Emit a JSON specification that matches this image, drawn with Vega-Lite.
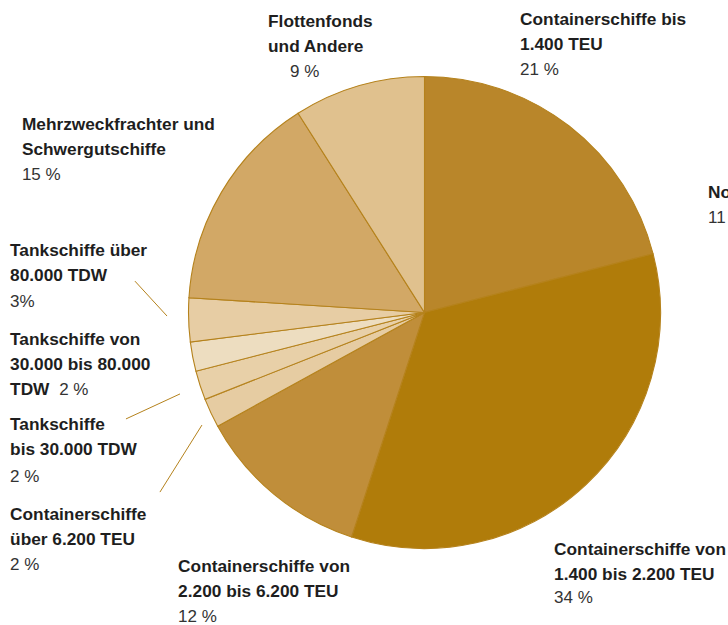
{
  "$schema": "https://vega.github.io/schema/vega-lite/v6.json",
  "width": 607,
  "height": 625,
  "autosize": {"type": "none"},
  "padding": {"left": 121, "top": 0, "right": 0, "bottom": 0},
  "background": "white",
  "config": {"view": {"stroke": null}},
  "datasets": {
    "slices": [
      {"order": 1, "name": "Containerschiffe bis 1.400 TEU", "value": 21},
      {"order": 2, "name": "Containerschiffe von 1.400 bis 2.200 TEU", "value": 34},
      {"order": 3, "name": "Containerschiffe von 2.200 bis 6.200 TEU", "value": 12},
      {"order": 4, "name": "Containerschiffe über 6.200 TEU", "value": 2},
      {"order": 5, "name": "Tankschiffe bis 30.000 TDW", "value": 2},
      {"order": 6, "name": "Tankschiffe von 30.000 bis 80.000 TDW", "value": 2},
      {"order": 7, "name": "Tankschiffe über 80.000 TDW", "value": 3},
      {"order": 8, "name": "Mehrzweckfrachter und Schwergutschiffe", "value": 15},
      {"order": 9, "name": "Flottenfonds und Andere", "value": 9}
    ],
    "names": [
      {"u": -0.663, "v": 1.210, "lines": ["Flottenfonds", "und Andere"]},
      {"u": 0.405, "v": 1.218, "lines": ["Containerschiffe bis", "1.400 TEU"]},
      {"u": 1.201, "v": 0.487, "lines": ["No"]},
      {"u": -1.706, "v": 0.773, "lines": ["Mehrzweckfrachter und", "Schwergutschiffe"]},
      {"u": -1.756, "v": 0.239, "lines": ["Tankschiffe über", "80.000 TDW"]},
      {"u": -1.756, "v": -0.138, "lines": ["Tankschiffe von", "30.000 bis 80.000", "TDW"]},
      {"u": -1.756, "v": -0.498, "lines": ["Tankschiffe", "bis 30.000 TDW"]},
      {"u": -1.756, "v": -0.879, "lines": ["Containerschiffe", "über 6.200 TEU"]},
      {"u": -1.044, "v": -1.098, "lines": ["Containerschiffe von", "2.200 bis 6.200 TEU"]},
      {"u": 0.549, "v": -1.028, "lines": ["Containerschiffe von", "1.400 bis 2.200 TEU"]}
    ],
    "percents": [
      {"u": -0.570, "v": 1.000, "label": "9 %"},
      {"u": 0.405, "v": 1.006, "label": "21 %"},
      {"u": 1.201, "v": 0.379, "label": "11 %"},
      {"u": -1.706, "v": 0.561, "label": "15 %"},
      {"u": -1.756, "v": 0.025, "label": "3%"},
      {"u": -1.548, "v": -0.350, "label": "2 %"},
      {"u": -1.756, "v": -0.717, "label": "2 %"},
      {"u": -1.756, "v": -1.091, "label": "2 %"},
      {"u": -1.044, "v": -1.310, "label": "12 %"},
      {"u": 0.549, "v": -1.231, "label": "34 %"}
    ],
    "leaders": [
      {"u": -1.227, "v": 0.133, "u2": -1.091, "v2": -0.015},
      {"u": -1.265, "v": -0.451, "u2": -1.036, "v2": -0.345},
      {"u": -1.121, "v": -0.761, "u2": -0.943, "v2": -0.477}
    ]
  },
  "layer": [
    {
      "data": {"name": "slices"},
      "mark": {"type": "arc", "outerRadius": 236, "stroke": "#B5821C", "strokeWidth": 1.1},
      "encoding": {
        "theta": {"field": "value", "type": "quantitative", "stack": true},
        "order": {"field": "order", "type": "quantitative"},
        "color": {
          "field": "name",
          "type": "nominal",
          "legend": null,
          "scale": {
            "domain": [
              "Containerschiffe bis 1.400 TEU",
              "Containerschiffe von 1.400 bis 2.200 TEU",
              "Containerschiffe von 2.200 bis 6.200 TEU",
              "Containerschiffe über 6.200 TEU",
              "Tankschiffe bis 30.000 TDW",
              "Tankschiffe von 30.000 bis 80.000 TDW",
              "Tankschiffe über 80.000 TDW",
              "Mehrzweckfrachter und Schwergutschiffe",
              "Flottenfonds und Andere"
            ],
            "range": ["#B9862A", "#B07C0A", "#C08E3A", "#E6CCA2", "#E8D0A8", "#EDDDC0", "#E7CDA4", "#D2A866", "#E0C18E"]
          }
        }
      }
    },
    {
      "data": {"name": "leaders"},
      "mark": {"type": "rule", "color": "#B5821C", "strokeWidth": 1},
      "encoding": {
        "x": {"field": "u", "type": "quantitative", "scale": {"domain": [-1.286, 1.286], "nice": false, "zero": false}, "axis": null},
        "y": {"field": "v", "type": "quantitative", "scale": {"domain": [-1.3242, 1.3242], "nice": false, "zero": false}, "axis": null},
        "x2": {"field": "u2"},
        "y2": {"field": "v2"}
      }
    },
    {
      "data": {"name": "names"},
      "mark": {"type": "text", "align": "left", "baseline": "alphabetic", "font": "Liberation Sans", "fontSize": 17.3, "fontWeight": "bold", "lineHeight": 25, "color": "#1E1E1E"},
      "encoding": {
        "x": {"field": "u", "type": "quantitative", "scale": {"domain": [-1.286, 1.286], "nice": false, "zero": false}, "axis": null},
        "y": {"field": "v", "type": "quantitative", "scale": {"domain": [-1.3242, 1.3242], "nice": false, "zero": false}, "axis": null},
        "text": {"field": "lines"}
      }
    },
    {
      "data": {"name": "percents"},
      "mark": {"type": "text", "align": "left", "baseline": "alphabetic", "font": "Liberation Sans", "fontSize": 17, "color": "#333333"},
      "encoding": {
        "x": {"field": "u", "type": "quantitative", "scale": {"domain": [-1.286, 1.286], "nice": false, "zero": false}, "axis": null},
        "y": {"field": "v", "type": "quantitative", "scale": {"domain": [-1.3242, 1.3242], "nice": false, "zero": false}, "axis": null},
        "text": {"field": "label"}
      }
    }
  ]
}
